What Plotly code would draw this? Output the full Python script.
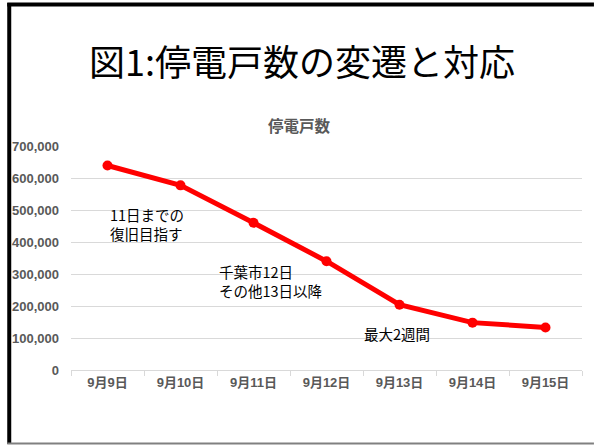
import plotly.graph_objects as go

categories = ["9月9日", "9月10日", "9月11日", "9月12日", "9月13日", "9月14日", "9月15日"]
outages = [639000, 577000, 460000, 340000, 204000, 148000, 133000]
y_ticks = [0, 100000, 200000, 300000, 400000, 500000, 600000, 700000]
y_tick_labels = ["0", "100,000", "200,000", "300,000", "400,000", "500,000", "600,000", "700,000"]

note_texts = ["11日までの<br>復旧目指す", "千葉市12日<br>その他13日以降", "最大2週間"]
note_x = [0.0, 1.5, 3.48]
note_y = [456000, 278000, 113000]

W, H = 594, 445
L, R, T, B = 69, 12, 146, 75
pw, ph = W - L - R, H - T - B

def px(x):
    return (x - L) / pw

def py(y):
    return (H - B - y) / ph

FONT = "Liberation Sans, Noto Sans CJK JP, sans-serif"
JP = "Noto Sans CJK JP, sans-serif"

fig = go.Figure()
fig.add_trace(go.Scatter(
    x=categories, y=outages, mode="lines+markers",
    line=dict(color="#FF0000", width=5),
    marker=dict(color="#FF0000", size=10),
    hoverinfo="skip", showlegend=False, cliponaxis=False,
))

for t, x, y in zip(note_texts, note_x, note_y):
    fig.add_annotation(x=x, y=y, xref="x", yref="y", text=t, showarrow=False,
                       xanchor="left", yanchor="middle", align="left",
                       font=dict(family=JP, size=14.5, color="#000000"))

fig.add_annotation(x=px(301), y=py(60), xref="paper", yref="paper",
                   text="図1:停電戸数の変遷と対応", showarrow=False,
                   xanchor="center", yanchor="middle",
                   font=dict(family=JP, size=36, color="#000000"))
fig.add_annotation(x=px(298.5), y=py(125), xref="paper", yref="paper",
                   text="<b>停電戸数</b>", showarrow=False,
                   xanchor="center", yanchor="middle",
                   font=dict(family=JP, size=15.5, color="#595959"))

# slide border
fig.add_shape(type="line", xref="paper", yref="paper",
              x0=px(7), x1=px(7), y0=py(3), y1=py(444),
              line=dict(color="#000000", width=4))
fig.add_shape(type="line", xref="paper", yref="paper",
              x0=px(5), x1=px(594), y0=py(4.5), y1=py(4.5),
              line=dict(color="#000000", width=4))
fig.add_shape(type="line", xref="paper", yref="paper",
              x0=px(5), x1=px(594), y0=py(443.5), y1=py(443.5),
              line=dict(color="#808080", width=2))

fig.update_layout(
    width=W, height=H,
    margin=dict(l=L, r=R, t=T, b=B, pad=0),
    paper_bgcolor="#FFFFFF", plot_bgcolor="#FFFFFF",
    font=dict(family=FONT),
    xaxis=dict(
        type="category", categoryorder="array", categoryarray=categories,
        range=[-0.5, 6.5], tickson="boundaries", ticks="outside", ticklen=5,
        tickcolor="#D9D9D9", showline=True, linecolor="#D9D9D9", linewidth=1,
        showgrid=False, zeroline=False,
        tickfont=dict(family=FONT, size=13, color="#595959", weight="bold"),
    ),
    yaxis=dict(
        range=[0, 700000], tickvals=y_ticks, ticktext=y_tick_labels,
        showgrid=True, gridcolor="#D9D9D9", gridwidth=1, zeroline=False,
        showline=False, ticks="", ticklabelstandoff=11,
        tickfont=dict(family=FONT, size=13, color="#595959", weight="bold"),
    ),
)

fig.write_html("out.html", config={"displayModeBar": False},
               post_script="document.body.style.margin='0px';document.body.style.overflow='hidden';")
